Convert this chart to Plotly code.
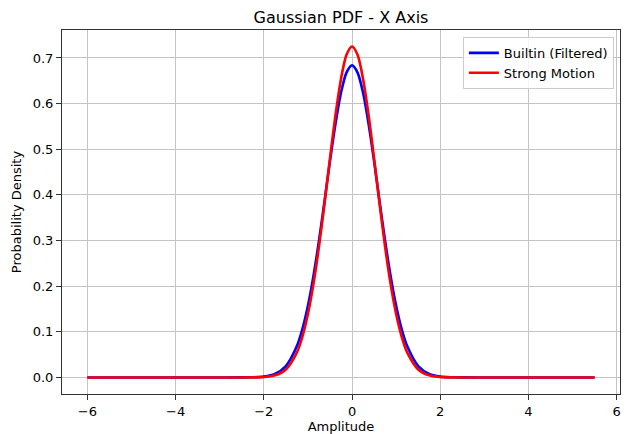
import plotly.graph_objects as go

# Data
x_vals = [-6.0, -3.0, -2.5, -2.25, -2.0, -1.75, -1.5, -1.25, -1.125, -1.0, -0.875, -0.75, -0.625,
          -0.5, -0.375, -0.25, -0.125, 0.0, 0.125, 0.25, 0.375, 0.5, 0.625, 0.75, 0.875, 1.0,
          1.125, 1.25, 1.5, 1.75, 2.0, 2.25, 2.5, 3.0, 5.5]
builtin_pdf = [0.0, 0.0, 0.0001, 0.0004, 0.0019, 0.0076, 0.025, 0.0687, 0.106, 0.157, 0.222, 0.299, 0.385,
               0.474, 0.556, 0.624, 0.668, 0.684, 0.668, 0.624, 0.556, 0.474, 0.385, 0.299, 0.222, 0.157,
               0.106, 0.0687, 0.025, 0.0076, 0.0019, 0.0004, 0.0001, 0.0, 0.0]
strong_pdf = [0.0, 0.0, 0.0, 0.0002, 0.0010, 0.0046, 0.0176, 0.0548, 0.0895, 0.139, 0.2045, 0.286, 0.380,
              0.480, 0.575, 0.654, 0.707, 0.725, 0.707, 0.654, 0.575, 0.480, 0.380, 0.286, 0.2045, 0.139,
              0.0895, 0.0548, 0.0176, 0.0046, 0.0010, 0.0002, 0.0, 0.0, 0.0]
x_tick_vals = [-6, -4, -2, 0, 2, 4, 6]
x_tick_text = ["\u22126", "\u22124", "\u22122", "0", "2", "4", "6"]
y_tick_vals = [0.0, 0.1, 0.2, 0.3, 0.4, 0.5, 0.6, 0.7]

fig = go.Figure()
fig.add_trace(go.Scatter(x=x_vals, y=builtin_pdf, mode="lines", name="Builtin (Filtered)",
                         line=dict(color="blue", width=2.6, shape="spline", smoothing=0.8)))
fig.add_trace(go.Scatter(x=x_vals, y=strong_pdf, mode="lines", name="Strong Motion",
                         line=dict(color="red", width=2.6, shape="spline", smoothing=0.8)))

axis_common = dict(showline=True, linecolor="#333333", linewidth=1, mirror=True,
                   ticks="outside", ticklen=5, tickcolor="#333333", tickwidth=1,
                   showgrid=True, gridcolor="#c4c4c4", gridwidth=1, zeroline=False,
                   automargin=False, tickfont=dict(size=13, color="black"))

fig.update_layout(
    width=627, height=434,
    margin=dict(l=62, r=7, t=30, b=40),
    paper_bgcolor="white", plot_bgcolor="white",
    font=dict(family="DejaVu Sans", size=13, color="black"),
    title=dict(text="Gaussian PDF - X Axis", x=0.5, xref="paper", xanchor="center",
               y=1 - 17 / 434, yanchor="middle", font=dict(size=16, color="black")),
    xaxis=dict(range=[-6.575, 6.075], tickvals=x_tick_vals, ticktext=x_tick_text,
               title=dict(text="Amplitude", font=dict(size=13), standoff=2), **axis_common),
    yaxis=dict(range=[-0.03625, 0.76125], tickvals=y_tick_vals, tickformat=".1f",
               title=dict(text="Probability Density", font=dict(size=13), standoff=8), **axis_common),
    legend=dict(x=0.989, y=0.981, xanchor="right", yanchor="top",
                bgcolor="rgba(255,255,255,0.8)", bordercolor="#cccccc", borderwidth=1,
                font=dict(size=13), itemwidth=30, tracegroupgap=0),
    showlegend=True,
)

fig.write_html("out.html", config={"displayModeBar": False},
               post_script="document.body.style.margin='0';")
